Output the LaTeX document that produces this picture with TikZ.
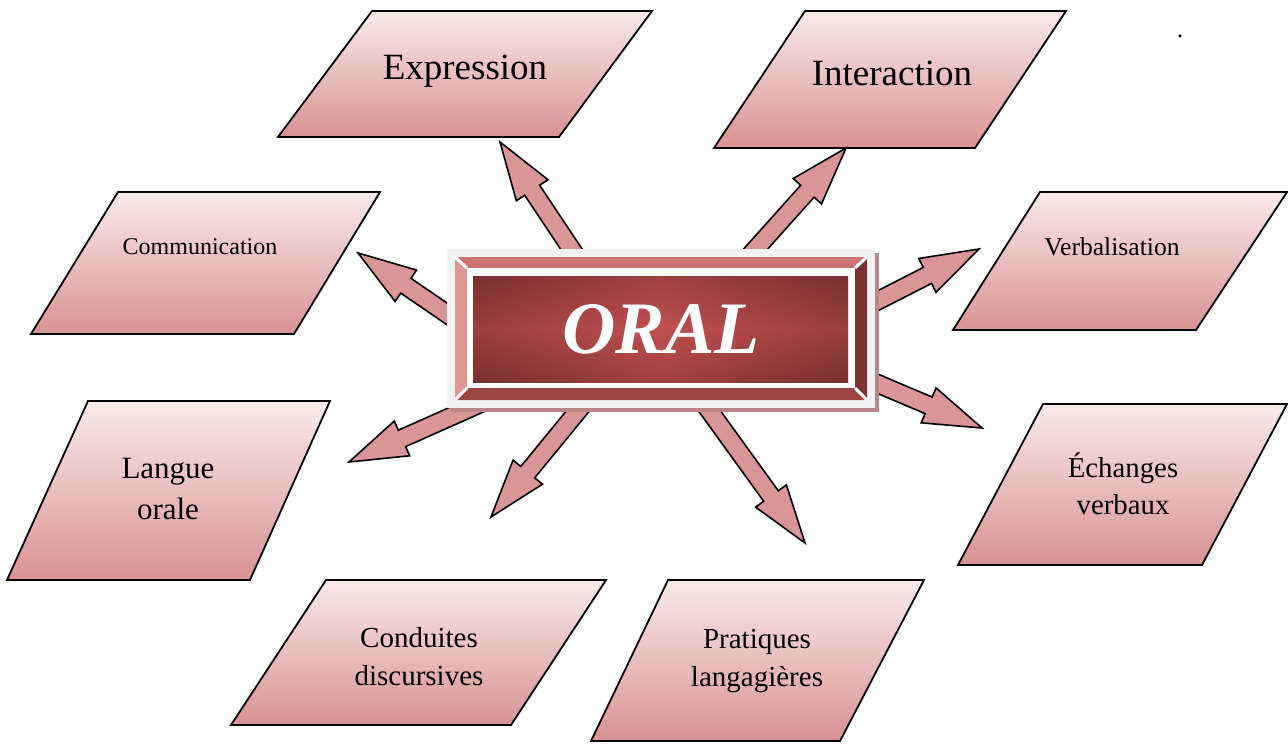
\documentclass[tikz,border=0pt]{standalone}
\usepackage{fontspec}
\setmainfont{Liberation Serif}
\usetikzlibrary{calc}

\definecolor{paratop}{HTML}{F8EAEA}
\definecolor{parabot}{HTML}{D99292}
\definecolor{arrowfill}{HTML}{DA9696}
\definecolor{framegray}{HTML}{F2F2F2}
\definecolor{boxshadow}{HTML}{B98686}
\definecolor{beveltop}{HTML}{CD7472}
\definecolor{bevelleft}{HTML}{DC9797}
\definecolor{bevelright}{HTML}{7B3131}
\definecolor{bevelbottom}{HTML}{9C4343}
\definecolor{facedark}{HTML}{7A3030}
\definecolor{facelight}{HTML}{C05050}

\tikzset{
	para/.style = {draw = black, line width = 0.9pt, top color = paratop, bottom color = parabot},
	paratext/.style = {align = center, inner sep = 0pt},
	arrowstyle/.style = {draw = black, line width = 0.8pt, fill = arrowfill, line join = miter}
}

% block arrow from tail #1 to tip #2
\newcommand{\blockarrow}[2]{%
	\coordinate (ab) at ($(#2)!29pt!(#1)$) ;
	\filldraw [arrowstyle] ($(#1)!4.5pt!90:(#2)$) -- ($(ab)!4.5pt!-90:(#1)$) -- ($(ab)!9.5pt!-90:(#1)$) -- (#2)
		-- ($(ab)!9.5pt!90:(#1)$) -- ($(ab)!4.5pt!90:(#1)$) -- ($(#1)!4.5pt!-90:(#2)$) -- cycle ;
}

\begin{document}
\begin{tikzpicture}[x = 0.5pt, y = -0.5pt]
	\useasboundingbox (0, 0) rectangle (1288, 743) ;

	% Parallelograms
	\shade [para] (372, 11) -- (652, 11) -- (559, 137) -- (278, 137) -- cycle ;
	\shade [para] (805, 11) -- (1066, 11) -- (975, 148) -- (714, 148) -- cycle ;
	\shade [para] (118, 192) -- (380, 192) -- (294, 334) -- (31, 334) -- cycle ;
	\shade [para] (1040, 192) -- (1287, 192) -- (1196, 330) -- (953, 330) -- cycle ;
	\shade [para] (88, 401) -- (330, 401) -- (250, 580) -- (7, 580) -- cycle ;
	\shade [para] (1043, 404) -- (1287, 404) -- (1202, 565) -- (958, 565) -- cycle ;
	\shade [para] (326, 580) -- (606, 580) -- (511, 725) -- (231, 725) -- cycle ;
	\shade [para] (668, 580) -- (924, 580) -- (840, 741) -- (591, 741) -- cycle ;

	\node (expression) at (465, 71) [paratext, font = \fontsize{18.5}{22}\selectfont] {Expression} ;
	\node (interaction) at (892, 73) [paratext, font = \fontsize{18.5}{22}\selectfont] {Interaction} ;
	\node (communication) at (200, 247) [paratext, font = \fontsize{12}{14}\selectfont] {Communication} ;
	\node (verbalisation) at (1112, 247) [paratext, font = \fontsize{12.8}{15}\selectfont] {Verbalisation} ;
	\node (langue) at (168, 489) [paratext, font = \fontsize{15.5}{20.5}\selectfont] {Langue\\orale} ;
	\node (echanges) at (1123, 484) [paratext, font = \fontsize{14.4}{18.5}\selectfont] {Échanges\\verbaux} ;
	\node (conduites) at (419, 657) [paratext, font = \fontsize{14.5}{19}\selectfont] {Conduites\\discursives} ;
	\node (pratiques) at (757, 661) [paratext, font = \fontsize{14.5}{19}\selectfont] {Pratiques\\langagières} ;
	\node (dot) at (1180, 38) [inner sep = 0pt, anchor = base, font = \fontsize{13}{13}\selectfont] {.} ;

	% Arrows (tails hidden under the box)
	\coordinate (tExp) at (588, 274) ; \coordinate (hExp) at (500, 142) ;
	\coordinate (tInt) at (736, 271) ; \coordinate (hInt) at (846, 148) ;
	\coordinate (tCom) at (472, 331) ; \coordinate (hCom) at (358, 253) ;
	\coordinate (tVer) at (850, 315) ; \coordinate (hVer) at (979, 249) ;
	\coordinate (tLan) at (495, 397) ; \coordinate (hLan) at (349, 462) ;
	\coordinate (tCon) at (600, 384) ; \coordinate (hCon) at (491, 517) ;
	\coordinate (tPra) at (690, 384) ; \coordinate (hPra) at (805, 543) ;
	\coordinate (tEch) at (850, 372) ; \coordinate (hEch) at (982, 428) ;
	\foreach \s/\e in {tExp/hExp, tInt/hInt, tCom/hCom, tVer/hVer, tLan/hLan, tCon/hCon, tPra/hPra, tEch/hEch}{
		\blockarrow{\s}{\e}
	}

	% Central box
	\fill [boxshadow] (451, 253) rectangle (879, 412) ;
	\fill [framegray] (447, 249) rectangle (875, 408) ;
	\fill [beveltop] (455, 257) -- (867, 257) -- (855, 268) -- (467, 268) -- cycle ;
	\fill [bevelleft] (455, 257) -- (467, 268) -- (467, 388) -- (455, 400) -- cycle ;
	\fill [bevelright] (867, 257) -- (867, 400) -- (855, 388) -- (855, 268) -- cycle ;
	\fill [bevelbottom] (455, 400) -- (867, 400) -- (855, 388) -- (467, 388) -- cycle ;
	\fill [white] (467, 268) rectangle (855, 388) ;
	\shade [left color = facedark, right color = facedark, middle color = facelight] (473, 276) rectangle (848, 382) ;
	\shade [top color = facedark, bottom color = facedark, middle color = facelight, fill opacity = 0.45] (473, 276) rectangle (848, 382) ;
	\draw [white, line width = 1.5pt] (455, 257) -- (467, 268) (867, 257) -- (855, 268) (867, 400) -- (855, 388) (455, 400) -- (467, 388) ;
	\node (oral) at (661, 329) [text = white, inner sep = 0pt, font = \fontsize{37}{40}\selectfont\bfseries\itshape] {ORAL} ;
\end{tikzpicture}
\end{document}
